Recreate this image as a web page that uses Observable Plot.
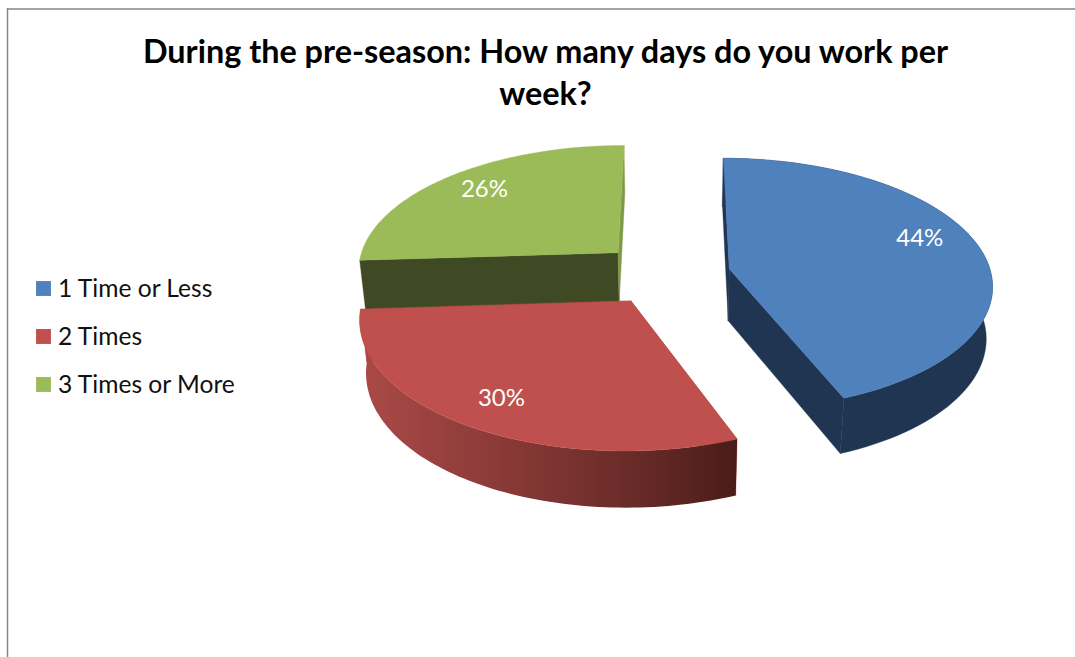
<!DOCTYPE html>
<html><head><meta charset="utf-8">
<style>html,body{margin:0;padding:0;background:#fff}svg{display:block}</style>
<script src="https://cdn.jsdelivr.net/npm/d3@7"></script>
<script src="https://cdn.jsdelivr.net/npm/@observablehq/plot@0.6"></script>
</head><body><script>
const titleLines = ["During the pre-season: How many days do you work per", "week?"];
const categories = ["1 Time or Less", "2 Times", "3 Times or More"];
const values = [44, 30, 26];
const explode = [0.245, 0.245, 0.26];
const topColors = ["#4F81BD", "#C0504D", "#9BBB59"];
const sideColors = ["#1F3552", "#A54644", "#3F4A25"];
const labelRadius = [0.80, 0.80, 0.80];
const labelTurnDeg = [-7.5, 0, 1.4];

// 3D-pie camera
const cam = {cx: 666, cy: 274, vx: 674, vy: -768, R: 262, p: 0.12, q: 0.02, H: 74};
function proj(X, Y, Z) {
  const w = 1 + cam.p * Y + cam.q * Z;
  return {x: cam.vx + (cam.cx - cam.vx + cam.R * X) / w,
          y: cam.vy + (cam.cy - cam.vy + cam.H * Z) / w};
}
const total = d3.sum(values);
let acc = 0;
const slices = values.map((v, i) => {
  const a0 = acc / total * 2 * Math.PI; acc += v;
  const a1 = acc / total * 2 * Math.PI, mid = (a0 + a1) / 2;
  return {i, a0, a1, mid, ox: explode[i] * Math.sin(mid), oy: explode[i] * Math.cos(mid)};
});
const rim = (s, a, Z) => proj(s.ox + Math.sin(a), s.oy + Math.cos(a), Z);
const apex = (s, Z) => proj(s.ox, s.oy, Z);
const arc = (s, a0, a1, Z, n = 80) => d3.range(n + 1).map(k => rim(s, a0 + (a1 - a0) * k / n, Z));

function collect(list, polys, startId) {
  let pid = startId;
  const add = (points, color) => { pid++; for (const q of points) polys.push({id: pid, x: q.x, y: q.y, color}); };
  for (const {s, parts} of list) {
    const side = sideColors[s.i];
    if (parts.includes("cuts")) {
      add([apex(s, 0), rim(s, s.a0, 0), rim(s, s.a0, 1), apex(s, 1)], side);
      add([apex(s, 0), rim(s, s.a1, 0), rim(s, s.a1, 1), apex(s, 1)], s.i === 2 ? "#7E9A48" : side);
    }
    if (parts.includes("band")) add([...arc(s, s.a0, s.a1, 0), ...arc(s, s.a1, s.a0, 1)], side);
    if (parts.includes("top")) add([apex(s, 0), ...arc(s, s.a0, s.a1, 0)], topColors[s.i]);
  }
  return polys;
}
const [blue, red, green] = slices;
const backPolys = collect([
  {s: green, parts: ["cuts", "top"]},
  {s: blue, parts: ["cuts", "band", "top"]},
  {s: red, parts: ["cuts"]}
], [], 0);
const redBand = [...arc(red, red.a0, red.a1, 0), ...arc(red, red.a1, red.a0, 1)];
const redTop = collect([{s: red, parts: ["top"]}], [], 100);

const pctLabels = slices.map(s => {
  const a = s.mid + labelTurnDeg[s.i] * Math.PI / 180;
  const q = proj(s.ox + labelRadius[s.i] * Math.sin(a), s.oy + labelRadius[s.i] * Math.cos(a), 0);
  return {x: q.x, y: q.y, text: values[s.i] + "%"};
});
const legendX = 43, legendTextX = 57.5, legendY = [288, 336, 384];
const legend = categories.map((c, i) => ({c, i, y: legendY[i], color: topColors[i]}));
const titleRows = titleLines.map((t, i) => ({t, y: [52, 94][i]}));
const font = "Lato, 'Open Sans', sans-serif";

const gradientDefs = () => {
  const defs = d3.create("svg:defs");
  const g = defs.append("linearGradient").attr("id", "redSide");
  [[0, "#AB4A47"], [0.35, "#8C3B39"], [0.7, "#6B2C29"], [1, "#4A1C19"]].forEach(([o, c]) =>
    g.append("stop").attr("offset", o).attr("stop-color", c));
  return defs.node();
};
const polyMark = rows => Plot.line(rows, {x: "x", y: "y", z: "id", fill: "color", stroke: "color", strokeWidth: 0.4, curve: "linear-closed"});

const chart = Plot.plot({
  width: 1075, height: 657, margin: 0,
  x: {domain: [0, 1075], range: [0, 1075], axis: null},
  y: {domain: [0, 657], range: [0, 657], axis: null},
  color: {type: "identity"},
  style: {background: "#fff"},
  marks: [
    gradientDefs,
    Plot.ruleY([8.5], {x1: 7, x2: 1075, stroke: "#868686", strokeWidth: 1.5}),
    Plot.ruleX([7], {y1: 8, y2: 657, stroke: "#868686", strokeWidth: 1.5}),
    polyMark(backPolys),
    Plot.line(redBand, {x: "x", y: "y", fill: "url(#redSide)", stroke: "none", curve: "linear-closed"}),
    polyMark(redTop),
    Plot.text(pctLabels, {x: "x", y: "y", text: "text", fill: "#fff", fontSize: 24, fontFamily: font}),
    Plot.text(titleRows, {x: 545, y: "y", text: "t", fontSize: 32.4, fontWeight: 700, fontFamily: font, fill: "#000"}),
    Plot.dot(legend, {x: legendX, y: "y", symbol: "square", r: 8.4, fill: "color", stroke: null}),
    Plot.text(legend, {x: legendTextX, y: d => d.y + 1, text: "c", textAnchor: "start", fontSize: 24.6, fontFamily: font, fill: "#111"})
  ]
});
document.body.appendChild(chart);
</script></body></html>
